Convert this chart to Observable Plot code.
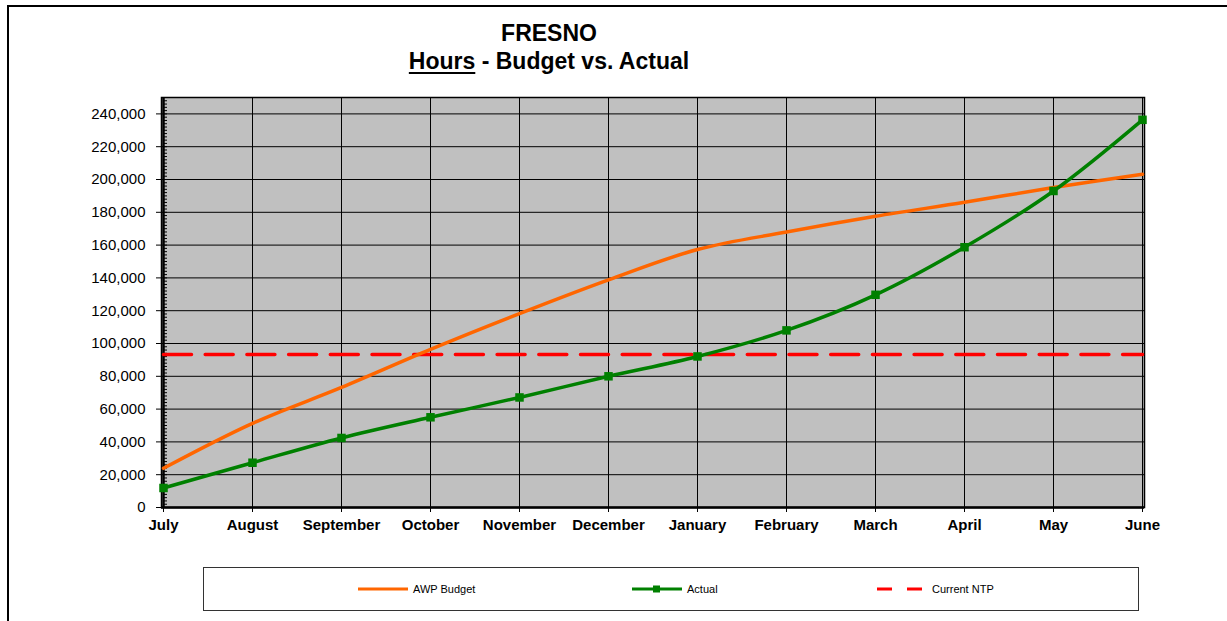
<!DOCTYPE html>
<html>
<head>
<meta charset="utf-8">
<script src="https://cdn.jsdelivr.net/npm/d3@7"></script>
<script src="https://cdn.jsdelivr.net/npm/@observablehq/plot@0.6"></script>
<style>
  html, body { margin: 0; padding: 0; background: #fff; width: 1227px; height: 621px; overflow: hidden; font-family: "Liberation Sans", Arial, sans-serif; }
  #frame { position: absolute; left: 7px; top: 5px; width: 1260px; height: 660px; border: 2px solid #000; box-sizing: border-box; }
  #title { position: absolute; left: 349px; width: 400px; top: 19px; text-align: center; font-weight: bold; font-size: 23px; line-height: 28px; color: #000; }
  #title u { text-decoration-thickness: 2px; text-underline-offset: 3px; }
  #chart { position: absolute; left: 0; top: 0; }
  #legend { position: absolute; left: 203px; top: 567px; width: 936px; height: 44px; border: 1px solid #333; box-sizing: border-box; background: #fff; font-size: 11px; }
  .item { position: absolute; top: 0; height: 42px; display: flex; align-items: center; }
  .item span { margin-left: 4px; }
</style>
</head>
<body>
<div id="frame"></div>
<div id="title">FRESNO<br><u>Hours</u> - Budget vs. Actual</div>
<div id="chart"></div>
<div id="legend"></div>
<script>
const months = ["July","August","September","October","November","December","January","February","March","April","May","June"];
const awpBudget = [23900, 51300, 73200, 96400, 118200, 138800, 157300, 168000, 177600, 186100, 195100, 203200];
const actual = [11900, 27300, 42400, 55000, 67100, 80000, 92100, 108000, 129700, 158700, 193000, 236400];
const currentNTP = 93300;
const yTicks = d3.range(0, 240001, 20000);
const yMinorTicks = d3.range(0, 250001, 2000);
const seriesNames = ["AWP Budget", "Actual", "Current NTP"];
const colors = {"AWP Budget": "#FF6600", "Actual": "#008000", "Current NTP": "#FF0000"};

const budgetData = months.map((m, i) => ({month: m, value: awpBudget[i]}));
const actualData = months.map((m, i) => ({month: m, value: actual[i]}));
const ntpData = months.map(m => ({month: m, value: currentNTP}));

const chart = Plot.plot({
  width: 1227,
  height: 550,
  marginLeft: 161,
  marginRight: 83,
  marginTop: 97,
  marginBottom: 43,
  style: {fontFamily: "Liberation Sans, Arial, sans-serif", color: "#000", background: "transparent"},
  x: {type: "point", domain: months, padding: 0},
  y: {domain: [0, 250000]},
  marks: [
    Plot.frame({fill: "#C0C0C0"}),
    Plot.gridX({stroke: "#000", strokeOpacity: 1, strokeWidth: 1}),
    Plot.gridY(yTicks, {stroke: "#000", strokeOpacity: 1, strokeWidth: 1}),
    Plot.ruleY(yMinorTicks, {y: d => d, x1: () => months[0], x2: () => months[0], insetRight: -4, stroke: "#000", strokeWidth: 1}),
    Plot.frame({stroke: "#000", strokeWidth: 1.5}),
    Plot.ruleX([months[0]], {stroke: "#000", strokeWidth: 2.5}),
    Plot.ruleY([0], {stroke: "#000", strokeWidth: 2.5}),
    Plot.axisY({ticks: yTicks, tickSize: 5, tickPadding: 11, tickFormat: d3.format(","), fontSize: 15, label: null}),
    Plot.axisX({tickSize: 5, tickPadding: 7, fontSize: 15, fontWeight: "bold", label: null}),
    Plot.line(ntpData, {x: "month", y: "value", stroke: colors["Current NTP"], strokeWidth: 3.5, strokeDasharray: "28,13.7"}),
    Plot.line(budgetData, {x: "month", y: "value", stroke: colors["AWP Budget"], strokeWidth: 3.5, curve: "catmull-rom"}),
    Plot.line(actualData, {x: "month", y: "value", stroke: colors["Actual"], strokeWidth: 3.5, curve: "catmull-rom"}),
    Plot.dot(actualData, {x: "month", y: "value", symbol: "square", r: 4.8, fill: colors["Actual"], stroke: null})
  ]
});
document.getElementById("chart").appendChild(chart);

// Legend
const legend = document.getElementById("legend");
const legendPos = {"AWP Budget": 154, "Actual": 428, "Current NTP": 673};
seriesNames.forEach(name => {
  const item = document.createElement("div");
  item.className = "item";
  item.style.left = legendPos[name] + "px";
  const ns = "http://www.w3.org/2000/svg";
  const svg = document.createElementNS(ns, "svg");
  svg.setAttribute("width", 51);
  svg.setAttribute("height", 10);
  const ln = document.createElementNS(ns, "line");
  ln.setAttribute("x1", 0); ln.setAttribute("x2", name === "Current NTP" ? 46 : 50);
  ln.setAttribute("y1", 5); ln.setAttribute("y2", 5);
  ln.setAttribute("stroke", colors[name]);
  ln.setAttribute("stroke-width", 3);
  if (name === "Current NTP") ln.setAttribute("stroke-dasharray", "15,15");
  svg.appendChild(ln);
  if (name === "Actual") {
    const r = document.createElementNS(ns, "rect");
    r.setAttribute("x", 21); r.setAttribute("y", 1.5); r.setAttribute("width", 7); r.setAttribute("height", 7);
    r.setAttribute("fill", colors[name]);
    svg.appendChild(r);
  }
  item.appendChild(svg);
  const t = document.createElement("span");
  t.textContent = name;
  item.appendChild(t);
  legend.appendChild(item);
});
</script>
</body>
</html>
